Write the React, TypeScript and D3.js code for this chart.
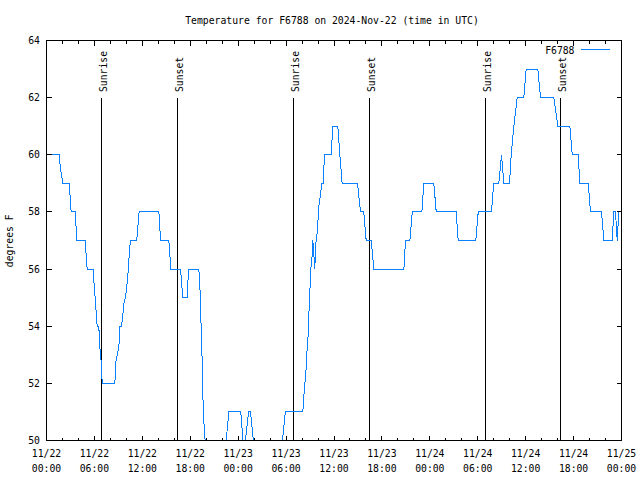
import React from "react";
import * as d3 from "d3";

// Hours since 2024-11-22 00:00 UTC and temperature (°F)
const hours = [
  0, 1.58, 1.75, 2.05, 2.84, 3.09, 3.59, 3.8, 4.84, 5.09, 5.84, 5.93, 6.14, 6.35, 6.55, 6.68, 6.85, 6.93, 7.01,
  8.56, 8.68, 8.85, 9.06, 9.18, 9.39, 9.6, 9.68, 9.89, 10.02, 10.18, 10.3, 10.43, 10.52, 11.3, 11.6, 14.07, 14.28,
  15.32, 15.57, 16.78, 17.07, 17.6, 17.8, 19.07, 19.2, 19.3, 19.45, 19.55, 19.7, 19.8, 19.87, 20.2,
  22.2, 22.5, 22.83, 24.33, 24.6, 24.75, 24.9, 25.3, 25.55, 25.9, 26.2, 29.2, 29.55, 29.9,
  32.1, 32.31, 32.43, 32.56, 32.64, 32.77, 32.85, 32.97, 33.06, 33.27, 33.35, 33.45, 33.6, 33.68, 33.9,
  34.02, 34.14, 34.31, 34.48, 34.64, 34.81, 35.15, 35.65, 35.85, 36.48, 36.73, 37.02, 38.94, 39.32,
  39.73, 40.03, 40.66, 40.99, 44.75, 44.95, 45.5, 45.8, 47.0, 47.25, 48.5, 48.8, 51.3, 51.55, 53.76,
  54.06, 55.72, 56.0, 56.64, 56.98, 57.27, 57.98, 58.19, 58.52, 58.94, 59.77, 60.06, 61.52, 61.86,
  63.53, 64.03, 65.53, 65.83, 66.58, 66.78, 67.83, 68.12, 69.5, 69.8, 70.83, 71.04, 71.25, 71.46,
  71.67, 72,
];
const temps = [
  60, 60, 59.5, 59, 59, 58, 58, 57, 57, 56, 56, 55.6, 54.8, 54, 54, 53.26, 52.74, 52.2, 52,
  52, 52.74, 53, 53.26, 54, 54, 54.5, 54.8, 55, 55.3, 55.75, 56.26, 56.77, 57, 57, 58, 58, 57,
  57, 56, 56, 55, 55, 56, 56, 55.5, 54.5, 53.3, 51.75, 50.7, 50.2, 50, 49,
  49, 50, 51, 51, 50, 49.6, 50, 51, 51, 50, 49, 49, 50, 51,
  51, 51.9, 52.2, 52.7, 53.27, 53.7, 54.4, 55.1, 55.9, 56.5, 57, 56.6, 56, 56.8, 57.3,
  57.8, 58.3, 58.6, 59, 59, 60, 60, 60, 61, 61, 60, 59, 59, 58,
  58, 57, 57, 56, 56, 57, 57, 58, 58, 59, 59, 58, 58, 57, 57,
  58, 58, 59, 59, 60, 59, 59, 60, 61, 62, 62, 63, 63, 62,
  62, 61, 61, 60, 60, 59, 59, 58, 58, 57, 57, 58, 58, 57,
  58, 58,
];

const sunriseHours = [6.9, 30.95, 54.97];
const sunsetHours = [16.42, 40.41, 64.36];

const xTickDates = ["11/22", "11/22", "11/22", "11/22", "11/23", "11/23", "11/23", "11/23", "11/24", "11/24", "11/24", "11/24", "11/25"];
const xTickTimes = ["00:00", "06:00", "12:00", "18:00", "00:00", "06:00", "12:00", "18:00", "00:00", "06:00", "12:00", "18:00", "00:00"];
const yTicks = [50, 52, 54, 56, 58, 60, 62, 64];

const title = "Temperature for F6788 on 2024-Nov-22 (time in UTC)";
const seriesName = "F6788";
const yLabel = "degrees F";

const W = 640;
const H = 480;
const L = 46.5;
const R = 621.5;
const T = 40.5;
const B = 440.5;
const FONT = "'DejaVu Sans Mono', monospace";
const FS = 9.75;
const LINE_COLOR = "#0a80ff";

export default function App() {
  const x = d3.scaleLinear().domain([0, 72]).range([L, R]);
  const y = d3.scaleLinear().domain([50, 64]).range([B, T]);
  const pts: [number, number][] = hours.map((h, i) => [h, temps[i]]);
  const line = d3
    .line<[number, number]>()
    .x((d) => x(d[0]))
    .y((d) => y(d[1]));
  const majorX = d3.range(0, 73, 6);
  const minorX = d3.range(0, 73, 2).filter((h) => h % 6 !== 0);
  const snap = (v: number) => Math.round(v - 0.5) + 0.5;

  return (
    <svg
      width={W}
      height={H}
      style={{ position: "absolute", left: 0, top: 0, background: "#fff" }}
      fontFamily={FONT}
      fontSize={FS}
    >
      <defs>
        <clipPath id="plotclip">
          <rect x={L} y={T} width={R - L} height={B - T} />
        </clipPath>
      </defs>
      <rect x={0} y={0} width={W} height={H} fill="#fff" />
      <text x={332} y={24} textAnchor="middle" fill="#000">
        {title}
      </text>

      {/* sunrise / sunset */}
      {sunriseHours.map((h, i) => (
        <g key={"sr" + i}>
          <line x1={snap(x(h))} x2={snap(x(h))} y1={98} y2={B} stroke="#000" shapeRendering="crispEdges" />
          <text transform={`translate(${snap(x(h)) + 5},92) rotate(-90)`} fill="#000">
            Sunrise
          </text>
        </g>
      ))}
      {sunsetHours.map((h, i) => (
        <g key={"ss" + i}>
          <line x1={snap(x(h))} x2={snap(x(h))} y1={98} y2={B} stroke="#000" shapeRendering="crispEdges" />
          <text transform={`translate(${snap(x(h)) + 5},92) rotate(-90)`} fill="#000">
            Sunset
          </text>
        </g>
      ))}

      {/* data */}
      <path
        d={line(pts) || ""}
        fill="none"
        stroke={LINE_COLOR}
        strokeWidth={1}
        clipPath="url(#plotclip)"
        shapeRendering="crispEdges"
      />

      {/* frame */}
      <rect x={L} y={T} width={R - L} height={B - T} fill="none" stroke="#000" shapeRendering="crispEdges" />

      {/* x ticks */}
      {majorX.map((h, i) => (
        <g key={"mx" + i}>
          <line x1={snap(x(h))} x2={snap(x(h))} y1={B} y2={B - 5} stroke="#000" shapeRendering="crispEdges" />
          <line x1={snap(x(h))} x2={snap(x(h))} y1={T} y2={T + 5} stroke="#000" shapeRendering="crispEdges" />
          <text x={x(h)} y={457} textAnchor="middle" fill="#000">
            {xTickDates[i]}
          </text>
          <text x={x(h)} y={471.5} textAnchor="middle" fill="#000">
            {xTickTimes[i]}
          </text>
        </g>
      ))}
      {minorX.map((h, i) => (
        <g key={"nx" + i}>
          <line x1={snap(x(h))} x2={snap(x(h))} y1={B} y2={B - 3} stroke="#000" shapeRendering="crispEdges" />
          <line x1={snap(x(h))} x2={snap(x(h))} y1={T} y2={T + 3} stroke="#000" shapeRendering="crispEdges" />
        </g>
      ))}

      {/* y ticks */}
      {yTicks.map((v, i) => (
        <g key={"y" + i}>
          <line x1={L} x2={L + 5} y1={snap(y(v))} y2={snap(y(v))} stroke="#000" shapeRendering="crispEdges" />
          <line x1={R} x2={R - 5} y1={snap(y(v))} y2={snap(y(v))} stroke="#000" shapeRendering="crispEdges" />
          <text x={40} y={y(v)} dy="0.36em" textAnchor="end" fill="#000">
            {v}
          </text>
        </g>
      ))}

      <text transform={`translate(13,240.8) rotate(-90)`} textAnchor="middle" fill="#000">
        {yLabel}
      </text>

      {/* legend */}
      <text x={574.5} y={53.5} textAnchor="end" fill="#000">
        {seriesName}
      </text>
      <line x1={581} x2={610} y1={49.5} y2={49.5} stroke={LINE_COLOR} shapeRendering="crispEdges" />
    </svg>
  );
}
